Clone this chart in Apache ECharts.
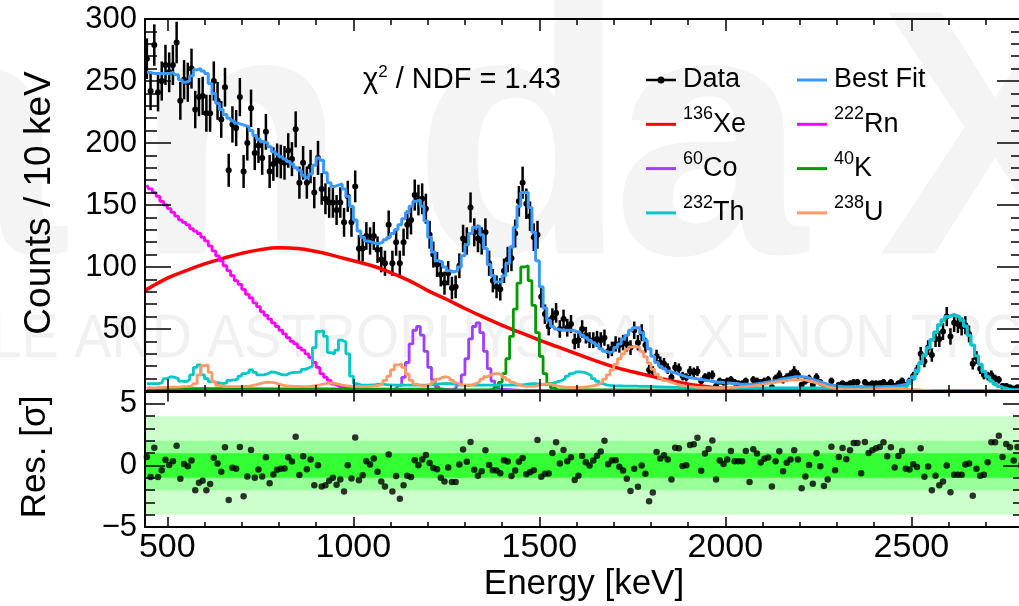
<!DOCTYPE html>
<html><head><meta charset="utf-8">
<script src="https://cdn.jsdelivr.net/npm/echarts@6/dist/echarts.min.js"></script>
<style>html,body{margin:0;padding:0;background:#fff}#c{width:1019px;height:606px}</style>
</head><body><div id="c"></div><script>
// ---------------- data (10 keV bins) ----------------
const binCenters = [
445,455,465,475,485,495,505,515,525,535,545,555,565,575,585,595,605,615,625,635,
645,655,665,675,685,695,705,715,725,735,745,755,765,775,785,795,805,815,825,835,
845,855,865,875,885,895,905,915,925,935,945,955,965,975,985,995,1005,1015,1025,1035,
1045,1055,1065,1075,1085,1095,1105,1115,1125,1135,1145,1155,1165,1175,1185,1195,1205,1215,1225,1235,
1245,1255,1265,1275,1285,1295,1305,1315,1325,1335,1345,1355,1365,1375,1385,1395,1405,1415,1425,1435,
1445,1455,1465,1475,1485,1495,1505,1515,1525,1535,1545,1555,1565,1575,1585,1595,1605,1615,1625,1635,
1645,1655,1665,1675,1685,1695,1705,1715,1725,1735,1745,1755,1765,1775,1785,1795,1805,1815,1825,1835,
1845,1855,1865,1875,1885,1895,1905,1915,1925,1935,1945,1955,1965,1975,1985,1995,2005,2015,2025,2035,
2045,2055,2065,2075,2085,2095,2105,2115,2125,2135,2145,2155,2165,2175,2185,2195,2205,2215,2225,2235,
2245,2255,2265,2275,2285,2295,2305,2315,2325,2335,2345,2355,2365,2375,2385,2395,2405,2415,2425,2435,
2445,2455,2465,2475,2485,2495,2505,2515,2525,2535,2545,2555,2565,2575,2585,2595,2605,2615,2625,2635,
2645,2655,2665,2675,2685,2695,2705,2715,2725,2735,2745,2755,2765,2775,2785,2795];

const dataCounts = [
268,242,279,241,250,263,257,263,281,234, 251,249,260,227,237,238,224,224,250,234,
219,245,178,215,212,237,177,200,228,192, 198,188,209,177,183,186,185,184,194,187,
211,168,184,168,181,160,188,163,155,152, 152,146,152,136,157,136,165,115,115,125,
121,125,114,106,103,134,103,120,103,120, 134,138,158,154,155,147,126,110,102,94,
87,95,83,84,101,123,121,148,128,123, 121,128,103,89,84,82,97,106,107,127,
153,168,151,141,124,126,76,62,52,59, 63,50,58,51,54,40,41,50,45,41,
41,42,41,43,32,34,38,37,39,38, 35,49,39,47,37,17,16,28,23,22,
18,11,19,18,12,11,16,15,16,8, 11,12,13,4,8,7,8,9,7,6,
6,8,2,9,8,7,8,9,3,10, 13,9,11,13,16,13,5,8,10,5,
11,7,2,3,8,3,5,6,5,6, 7,7,2,7,5,6,6,6,7,5,
7,4,6,8,5,8,12,17,30,24, 35,29,42,42,48,60,44,55,54,52,
53,46,22,27,18,13,12,13,10,9, 4,4,3,2,3,1];

const fitCounts = [
257,257,256,256,256,256,256,257,255,251, 249,250,254,259,260,258,256,248,240,232,
227,223,220,218,216,215,214,213,210,206, 203,201,200,197,193,191,189,187,185,183,
180,178,174,172,175,182,188,186,176,168, 165,166,167,163,157,149,138,129,124,121,
120,119,119,120,122,124,127,130,134,139, 144,149,153,154,149,137,124,112,105,104,
100,97,96,97,100,109,118,127,132,133, 126,115,102,93,88,88,93,103,116,132,
149,160,160,148,128,105,84,67,57,52, 50,49,49,49,49,48,47,45,43,41,
39,37,34,32,31,32,35,38,42,45, 49,51,51,47,41,34,28,23,20,18,
16,15,14,13,12,11,10.5,10,9.5,9, 8.5,8,7.5,7,7,6.5,6.5,6,6,5.5,
5.5,5.5,5.5,5.5,6,6.5,7,7.5,8,8.5, 9.5,10,10.5,11,11.5,11.5,11.5,11,10,9,
8,7,6,5,4.5,4,3.8,3.5,3.5,3.4, 3.4,3.4,3.3,3.3,3.3,3.3,3.4,3.5,3.6,3.7,
3.8,4,4.4,5,6,8.5,11.5,17,23,29, 35,41.5,47.5,53.5,57.5,60,61.2,61,60,57.5,
52.5,45,37,28.5,21.5,16,11.5,8,5.5,3.8, 2.6,1.8,1.3,1.1,1,1];

const residuals = [
0.7,-0.94,1.45,-0.94,-0.38,0.46,0.05,0.35,1.6,-1.08, 0.13,-0.05,0.4,-2.0,-1.4,-1.24,-2.0,-1.5,0.62,0.16,
-0.5,1.48,-2.8,-0.19,-0.27,1.5,-2.5,-0.9,1.26,-1.0, -0.32,-0.89,0.67,-1.45,-0.73,-0.35,-0.27,-0.24,0.67,0.32,
2.34,-0.78,0.75,-0.3,0.48,-1.6,0.03,-1.7,-1.6,-1.24, -1.0,-1.56,-1.13,-2.1,0.03,-1.05,2.28,-1.2,-0.8,0.35,
0.08,0.56,-0.5,-1.3,-1.7,0.9,-2.1,-0.86,-2.7,-1.6, -0.83,-0.94,0.43,0.03,0.48,0.86,0.2,-0.2,-0.3,-1.0,
-1.3,-0.16,-1.34,-1.34,0.08,1.3,0.3,1.9,-0.35,-0.83, -0.46,1.24,0.05,-0.38,-0.4,-0.62,0.43,0.32,-0.86,-0.4,
0.3,0.6,-0.7,-0.54,-0.38,2.07,-0.91,-0.67,-0.65,1.02, 1.88,0.16,1.26,0.35,0.67,-1.18,-0.83,0.78,0.27,0,
0.4,0.8,1.13,2.0,0.1,0.4,0.43,-0.1,-0.4,-1.08, -2.07,-0.27,-1.72,0,-0.67,-2.9,-2.2,1.1,0.56,0.83,
0.48,-1.13,1.45,1.4,-0.03,0.03,1.67,1.72,2.26,-0.43, 0.97,1.34,2.04,-1.13,0.4,0.13,0.48,1.18,0.35,0.35,
0.35,1.18,-1.34,1.32,0.97,0.24,0.54,0.65,-1.7,0.35, 1.16,-0.46,0.22,0.48,1.24,0.48,-1.85,-0.89,0.05,-1.48,
1.0,-0.05,-1.67,-1.13,1.53,-0.38,0.7,1.42,0.51,1.24, 1.83,1.83,-0.62,1.9,1.02,1.24,1.4,1.5,1.88,0.75,
1.48,-0.16,0.78,1.18,-0.27,-0.32,0.1,-0.13,1.4,-0.91, -0.08,-2.0,-0.83,-1.6,-1.3,0,-2.18,-0.75,-0.75,-0.75,
0.08,0.16,-2.45,-0.27,-0.83,-0.75,0.27,1.88,1.88,2.42, 0.7,1.75,1.48,0.4,1.5,0];

const th232 = [
6,6,6,6,6.5,10,11.5,11,10,8, 7.5,9,13,19,21,13,10,7.5,7,6.5,
6,6.5,8.5,9,9.5,12,14,15,17,15, 13,13,14,15.5,15,14,13,13,14.5,15,
15,15.5,17.5,18.5,20,35,48,48.5,44,31, 30,33,41,39.5,30,12,6,5,4.8,4.8,
5,5.2,5.5,5.5,5.2,5,4.8,4.8,4.8,4.8, 4.8,4.8,4.8,4.8,4.8,4.8,5,5.3,5.8,6,
6.2,6,5.6,5.2,4.8,4.8,4.8,4.8,4.8,4.8, 4.8,4.8,4.8,4.8,4.8,4.8,4.8,4.8,4.8,4.8,
5,5.2,5.6,6,6,5.6,5.2,5,5.5,6.5, 7.5,8.5,10,12,14,15.5,15.5,15,14,12.5,
10,8,6,5,4.5,4.3,4.2,4.1,4,4, 3.9,3.9,3.8,3.8,3.7,3.6,3.5,3.4,3.3,3.2,
3.1,3,2.9,2.8,2.7,2.7,2.6,2.6,2.6,2.5, 2.5,2.5,2.5,2.5,2.5,2.5,2.5,2.5,2.5,2.5,
2.5,2.5,2.5,2.5,2.5,2.5,2.5,2.5,2.5,2.5, 2.5,2.5,2.5,2.5,2.5,2.5,2.5,2.5,2.5,2.5,
2.4,2.4,2.4,2.4,2.4,2.4,2.4,2.4,2.4,2.4, 2.3,2.3,2.3,2.3,2.3,2.3,2.3,2.3,2.3,2.3,
2.3,2.4,2.6,3,3.5,6,9.5,15.5,22,28.5, 34.5,41,47,53,57,59.5,60.8,60.6,59.6,57.2,
52.2,44.7,36.8,28.3,21.3,15.8,11.3,7.8,5.3,3.6, 2.4,1.6,1.1,0.9,0.8,0.8];

const u238 = [
2.5,2.5,2.6,2.7,2.8,3,3,3.1,3.2,3.3, 3.5,3.7,4,6,13,20.5,21,15,7.5,4.5,
4,3.5,3.5,3.5,3.5,3.6,3.8,4,4.5,5.2, 6,6.8,7.2,7,6.5,5.5,4.8,4.2,4,3.8,
3.7,3.6,3.6,3.7,4,4.5,5,5.6,6.2,6.5, 6.2,5.5,4.8,4.3,4,3.8,3.7,3.6,3.6,3.7,
3.9,4.2,4.8,6,8.5,12,17,21,22,19, 13.5,8.5,5.5,4.5,4.2,4.5,5.5,7.5,9.5,11,
11.5,10.5,8.5,6.5,5,4.5,4.5,5,6,7.5, 9.5,11.5,13,14,14,13,11,9,7,5.5,
4.5,4,3.8,3.8,4,4.8,5.5,5.8,5.5,4.8, 4,3.5,3.2,3,3,3,3,3.2,3.5,4,
4.5,5.5,7,9.5,13,17,21.5,26,30,33.5, 35.5,36,35,32,27.5,22.5,17.5,13.5,10.5,8.5,
7.5,6.5,5.5,4.8,4.2,3.8,3.5,3.2,3,2.8, 2.7,2.6,2.6,2.6,2.6,2.7,2.8,3,3.2,3.4,
3.6,3.8,4,4.3,4.7,5.2,5.8,6.3,6.8,7.3, 7.8,8.2,8.6,8.9,9,9,8.9,8.5,7.8,7,
6,5,4,3.2,2.5,2,1.7,1.5,1.3,1.2, 1.1,1,1,1,1.1,1.2,1.4,1.6,1.8,2,
2.1,2.1,2,1.8,1.5,1.2,1,0.8,0.6,0.5, 0.4,0.3,0.2,0.2,0.1,0.1,0.1,0.1,0.1,0.1,
0.1,0.1,0.1,0.1,0.1,0.1,0.1,0.1,0.1,0.1, 0.1,0.1,0.1,0.1,0.1,0.1];

// sparse [energy, counts] histograms
const rn222 = [[445,166],[455,163],[465,160],[475,157],[485,153],[495,150],[505,147],[515,144],[525,141],[535,138],
[545,136],[555,134],[565,131],[575,129],[585,127],[595,124],[605,121],[615,117],[625,113],[635,109],
[645,105],[655,101],[665,97],[675,93],[685,89],[695,86],[705,82],[715,78],[725,75],[735,71],
[745,68],[755,64],[765,61],[775,58],[785,55],[795,52],[805,49],[815,46],[825,43],[835,40],
[845,38],[855,35],[865,33],[875,30],[885,27],[895,23],[905,19],[915,14],[925,11],[935,8.5],
[945,5.5],[955,4.2],[965,3.4],[975,2.8],[985,2.4],[995,2],[1005,1.7],[1015,1.5],[1025,1.3],[1035,1.1],
[1045,1],[1055,0.9],[1065,0.8],[1075,0.7],[1085,0.6],[1105,0.5],[1500,0.4],[2000,0.2],[2795,0.1]];
const co60 = [[445,0.9],[1105,0.9],[1115,1.5],[1125,4.5],[1135,11],[1145,23],[1155,38],[1165,49],[1175,52],[1185,45],
[1195,32],[1205,19],[1215,9],[1225,3.5],[1235,1.5],[1245,1],[1265,1],[1275,2],[1285,5.5],[1295,13],
[1305,26],[1315,42],[1325,52],[1335,55],[1345,47],[1355,32],[1365,18],[1375,8],[1385,3.5],[1395,1.5],
[1405,0.5],[1500,0.2],[2795,0]];
const k40 = [[445,1.8],[800,1.6],[1100,1.5],[1240,1.4],[1250,0.8],[1365,0.8],[1375,1.2],[1385,3],[1395,7],[1405,14],
[1415,26],[1425,44],[1435,66],[1445,87],[1455,100],[1465,101],[1475,89],[1485,69],[1495,47],[1505,28],
[1515,14],[1525,6],[1535,2.5],[1545,1],[1555,0.3],[2795,0]];
const xe136 = [[440,81],[500,91],[550,97],[600,102.5],[650,107],[700,111],[750,114],[800,115.5],[850,115],[900,112.5],
[950,109],[1000,105],[1050,101],[1100,95.5],[1150,89],[1200,81],[1250,74],[1300,66.5],[1350,59.5],[1400,53],
[1450,47],[1500,41],[1550,35.5],[1600,30],[1650,24.5],[1700,19.5],[1750,15.5],[1800,12],[1850,8.5],[1900,5.5],
[1950,3.5],[2000,2],[2050,1],[2100,0.5],[2200,0.2],[2300,0.1],[2458,0]];

const sigmaBands = [4, 2, 1];

// ---------------- ticks / labels ----------------
const xMajorTicks = [500,1000,1500,2000,2500];
const xMinorTicks = [500,600,700,800,900,1000,1100,1200,1300,1400,1500,1600,1700,1800,1900,2000,2100,2200,2300,2400,2500,2600,2700];
const yTopMajorTicks = [0,50,100,150,200,250,300];
const yTopLabels = [50,100,150,200,250,300];
const yTopMinorTicks = [0,10,20,30,40,50,60,70,80,90,100,110,120,130,140,150,160,170,180,190,200,210,220,230,240,250,260,270,280,290,300];
const yResMajorTicks = [-5,0,5];
const yResMinorTicks = [-5,-4,-3,-2,-1,0,1,2,3,4,5];

const legendLabels = [
  ['Data','{m|Data}'], ['Best Fit','{m|Best Fit}'],
  ['136Xe','{s|136}{m|Xe}'], ['222Rn','{s|222}{m|Rn}'],
  ['60Co','{s|60}{m|Co}'], ['40K','{s|40}{m|K}'],
  ['232Th','{s|232}{m|Th}'], ['238U','{s|238}{m|U}']
];
const watermarkLogo = ['a','n','d','a','X'];
const watermarkLine = ['PARTICLE AND','ASTROPHYSICAL','XENON TPC'];

// ---------------- style ----------------
const FF = "'Liberation Sans', Arial, Helvetica, sans-serif";
const C = {data:'#000000', fit:'#3a99ff', xe:'#ff0000', rn:'#ff00ff', co:'#9f3fff', k:'#009a00', th:'#00c8c8', u:'#ff9966'};
const legendColors = [C.data, C.fit, C.xe, C.rn, C.co, C.k, C.th, C.u];
const bandColors = ['#ccffcc', '#99ff99', '#33ff33'];
const X_MIN = 440, X_MAX = 2800;

const chart = echarts.init(document.getElementById('c'), null, {renderer:'canvas', width:1019, height:606});

function xAx(grid, pos, ticks, len, showLine, labels) {
  return {type:'value', gridIndex:grid, position:pos, min:X_MIN, max:X_MAX, z:10,
    axisLine:{show:showLine, onZero:false, lineStyle:{color:'#000', width:2}},
    axisTick:{show:true, inside:true, length:len, customValues:ticks, lineStyle:{color:'#000', width:1.5}},
    axisLabel: labels ? {show:true, customValues:labels, color:'#000', fontSize:34, fontFamily:FF, margin:4,
      formatter:(v)=>String(v)} : {show:false},
    splitLine:{show:false}, minorTick:{show:false}};
}
function yAx(grid, pos, min, max, ticks, len, showLine, labels) {
  return {type:'value', gridIndex:grid, position:pos, min:min, max:max, z:10,
    axisLine:{show:showLine, onZero:false, lineStyle:{color:'#000', width:2}},
    axisTick:{show:true, inside:true, length:len, customValues:ticks, lineStyle:{color:'#000', width:1.5}},
    axisLabel: labels ? {show:true, customValues:labels, color:'#000', fontSize:31, fontFamily:FF, margin:8,
      formatter:(v)=>String(v).replace('-', '\u2212')} : {show:false},
    splitLine:{show:false}, minorTick:{show:false}};
}

const pairs = (arr) => binCenters.map((e,i)=>[e, arr[i]]);
const dataErr = dataCounts.map(v => Math.sqrt(v)); // Poisson error of each count

function stepSeries(name, data, color, width, z) {
  return {name, type:'line', xAxisIndex:0, yAxisIndex:0, data, step:'middle', showSymbol:false, symbol:'none',
    lineStyle:{color, width}, itemStyle:{color}, z, animation:false, silent:true};
}

const graphic = [];
// faint PandaX watermark (logo letters + tagline)
const logoX = [-32, 240, 520, 710, 995];
watermarkLogo.forEach((t,i)=>{
  graphic.push({type:'text', x:logoX[i], y:157, z:0, silent:true,
    style:{text:t, x:0, y:0, align:'center', textAlign:'center', verticalAlign:'middle', textVerticalAlign:'middle',
      font:`bold 350px ${FF}`, fill:'#f4f4f4'}});
});
const lineX = [192, 207, 697], lineAlign = ['right','left','left'];
watermarkLine.forEach((t,i)=>{
  graphic.push({type:'text', x:lineX[i], y:340, scaleX:0.9, z:0, silent:true,
    style:{text:t, x:0, y:0, align:lineAlign[i], textAlign:lineAlign[i], verticalAlign:'middle', textVerticalAlign:'middle', font:`62px ${FF}`, fill:'#f1f1f1'}});
});
// axis titles
graphic.push({type:'text', x:40, y:203, rotation:Math.PI/2, z:100,
  style:{text:'Counts / 10 keV', align:'center', textAlign:'center', verticalAlign:'middle', textVerticalAlign:'middle', font:`37px ${FF}`, fill:'#000'}});
graphic.push({type:'text', x:35, y:457, rotation:Math.PI/2, z:100,
  style:{text:'Res. [\u03c3]', align:'center', textAlign:'center', verticalAlign:'middle', textVerticalAlign:'middle', font:`35px ${FF}`, fill:'#000'}});
graphic.push({type:'text', x:584, y:584, z:100,
  style:{text:'Energy [keV]', align:'center', textAlign:'center', verticalAlign:'middle', textVerticalAlign:'middle', font:`35px ${FF}`, fill:'#000'}});
// chi2 text
graphic.push({type:'text', x:363, y:80, z:100,
  style:{text:'{m|\u03c7}{s|2}{m| / NDF = 1.43}', align:'left', textAlign:'left', verticalAlign:'middle', textVerticalAlign:'middle',
    rich:{m:{fontSize:29, fontFamily:FF, fill:'#000', lineHeight:32, verticalAlign:'middle'},
          s:{fontSize:17, fontFamily:FF, fill:'#000', lineHeight:17, verticalAlign:'top'}}}});
// legend
legendLabels.forEach(([name, rich], k) => {
  const col = k % 2, row = Math.floor(k / 2);
  const lx = col === 0 ? 646 : 797, tx = col === 0 ? 683 : 834, y = 80 + row * 44.3;
  graphic.push({type:'line', z:100, shape:{x1:lx, y1:y, x2:lx+30, y2:y}, style:{stroke:legendColors[k], lineWidth: k===0 ? 2.5 : 3}});
  if (k === 0) graphic.push({type:'circle', z:101, shape:{cx:lx+15, cy:y, r:3.5}, style:{fill:'#000'}});
  graphic.push({type:'text', x:tx, y:y, z:100,
    style:{text:rich, align:'left', textAlign:'left', verticalAlign:'middle', textVerticalAlign:'middle',
      rich:{m:{fontSize:27, fontFamily:FF, fill:'#000', lineHeight:38, verticalAlign:'middle'},
            s:{fontSize:18, fontFamily:FF, fill:'#000', lineHeight:18, verticalAlign:'top'}}}});
});

const option = {
  animation:false,
  backgroundColor:'#ffffff',
  grid:[
    {left:145, top:19, width:878, height:372, containLabel:false, outerBoundsMode:'none', show:false},
    {left:145, top:391.6, width:878, height:135.5, containLabel:false, outerBoundsMode:'none', show:false}
  ],
  xAxis:[
    xAx(0,'bottom',xMajorTicks,12,true,null), xAx(0,'bottom',xMinorTicks,6,false,null),
    xAx(0,'top',xMajorTicks,12,true,null), xAx(0,'top',xMinorTicks,6,false,null),
    xAx(1,'bottom',xMajorTicks,10,true,xMajorTicks), xAx(1,'bottom',xMinorTicks,5,false,null),
    xAx(1,'top',xMajorTicks,10,true,null), xAx(1,'top',xMinorTicks,5,false,null)
  ],
  yAxis:[
    yAx(0,'left',0,300,yTopMajorTicks,26,true,yTopLabels), yAx(0,'left',0,300,yTopMinorTicks,12,false,null),
    yAx(0,'right',0,300,yTopMajorTicks,26,true,null), yAx(0,'right',0,300,yTopMinorTicks,12,false,null),
    yAx(1,'left',-5,6,yResMajorTicks,20,true,yResMajorTicks), yAx(1,'left',-5,6,yResMinorTicks,10,false,null),
    yAx(1,'right',-5,6,yResMajorTicks,20,true,null), yAx(1,'right',-5,6,yResMinorTicks,10,false,null)
  ],
  graphic:graphic,
  series:[
    // data with error bars
    {name:'Data', type:'custom', xAxisIndex:0, yAxisIndex:0, z:2, clip:true, silent:true,
      data: binCenters.map((e,i)=>[e, dataCounts[i], dataErr[i]]),
      renderItem:(params, api)=>{
        const x = api.value(0), y = api.value(1), er = api.value(2);
        const p = api.coord([x,y]), lo = api.coord([x,y-er]), hi = api.coord([x,y+er]);
        return {type:'group', children:[
          {type:'line', shape:{x1:p[0], y1:hi[1], x2:p[0], y2:lo[1]}, style:{stroke:'#000', lineWidth:2.5}},
          {type:'circle', shape:{cx:p[0], cy:p[1], r:3}, style:{fill:'#000'}}
        ]};
      }},
    stepSeries('Best Fit', pairs(fitCounts), C.fit, 3, 3),
    {name:'136Xe', type:'line', xAxisIndex:0, yAxisIndex:0, data:xe136, smooth:0.4, showSymbol:false, symbol:'none',
      lineStyle:{color:C.xe, width:3.5}, itemStyle:{color:C.xe}, z:4, silent:true},
    stepSeries('222Rn', rn222, C.rn, 2.8, 4),
    stepSeries('60Co', co60, C.co, 2.8, 4),
    stepSeries('40K', k40, C.k, 2.8, 4),
    stepSeries('232Th', pairs(th232), C.th, 2.8, 4),
    stepSeries('238U', pairs(u238), C.u, 2.8, 4),
    // residual bands
    {name:'bands', type:'custom', xAxisIndex:4, yAxisIndex:4, z:1, clip:true, silent:true,
      data: sigmaBands.map((b,i)=>[b,i]),
      renderItem:(params, api)=>{
        const b = api.value(0), i = api.value(1);
        const a = api.coord([X_MIN, b]), c = api.coord([X_MAX, -b]);
        return {type:'rect', shape:{x:a[0], y:a[1], width:c[0]-a[0], height:c[1]-a[1]}, style:{fill:bandColors[i]}};
      }},
    {name:'Residuals', type:'scatter', xAxisIndex:4, yAxisIndex:4, z:3, silent:true,
      data: pairs(residuals), symbol:'circle', symbolSize:6.5, itemStyle:{color:'#000'}}
  ]
};
chart.setOption(option);
</script></body></html>
